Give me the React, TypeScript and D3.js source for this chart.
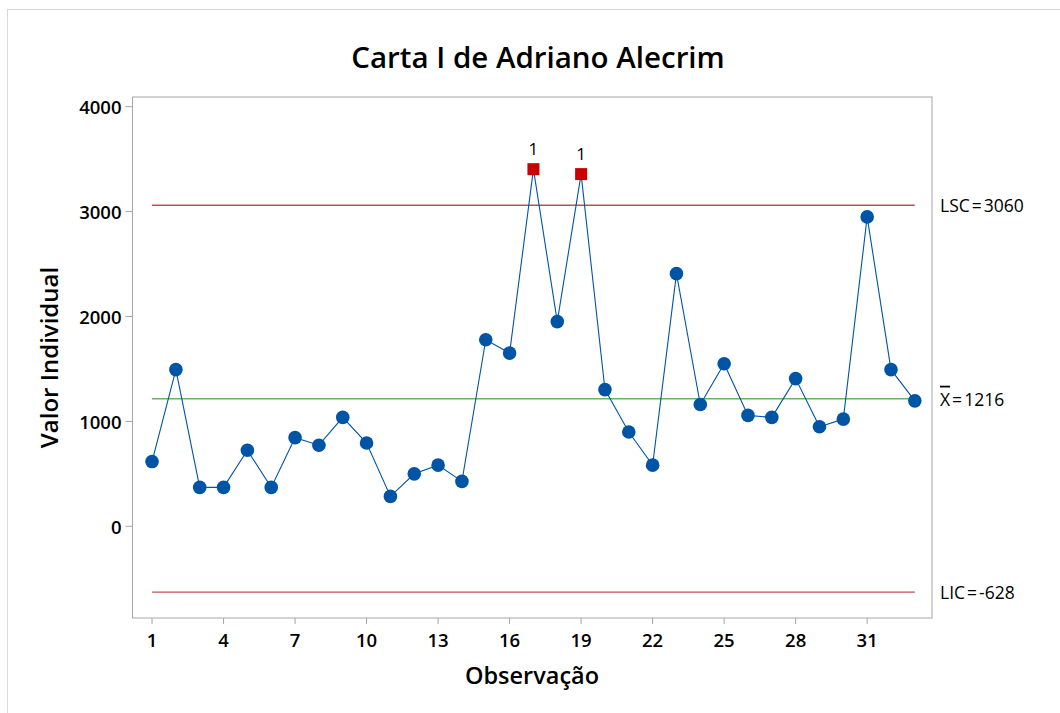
import * as d3 from "d3";

const observations = d3.range(1, 34);
const values = [
  617, 1493, 371, 371, 725, 371, 845, 773, 1038, 794, 285, 500, 583, 428, 1778,
  1651, 3404, 1951, 3357, 1303, 899, 583, 2408, 1161, 1550, 1057, 1038, 1408,
  949, 1022, 2949, 1493, 1196,
];
const lsc = 3060;
const mean = 1216;
const lic = -628;
const yTicks = [0, 1000, 2000, 3000, 4000];
const xTicks = [1, 4, 7, 10, 13, 16, 19, 22, 25, 28, 31];

const title = "Carta I de Adriano Alecrim";
const xTitle = "Observação";
const yTitle = "Valor Individual";

export default function App() {
  const width = 1060;
  const height = 713;
  const plot = { left: 132.5, right: 932, top: 97, bottom: 618 };
  const font = "'Open Sans', 'Noto Sans', sans-serif";
  const frameColor = "#a6a6a6";
  const blue = "#0054a6";
  const limitRed = "#c0504d";
  const meanGreen = "#6aaf6a";

  const xScale = d3.scaleLinear().domain([0.18, 33.72]).range([plot.left, plot.right]);
  const yScale = d3.scaleLinear().domain([-874, 4092]).range([plot.bottom, plot.top]);

  const points = observations.map((obs, i) => ({ obs, value: values[i] }));
  const line = d3
    .line<{ obs: number; value: number }>()
    .x((d) => xScale(d.obs))
    .y((d) => yScale(d.value));

  const x0 = xScale(observations[0]);
  const x1 = xScale(observations[observations.length - 1]);
  const labelX = plot.right + 8;
  const sq = 12;

  // control limit labels, Minitab style "NAME = value"
  const limitLabel = (name: React.ReactNode, v: number) => (
    <text x={labelX} y={yScale(v)} dominantBaseline="central" fontSize={17.5}>
      {name}
      <tspan dx={2}>=</tspan>
      <tspan dx={2}>{v}</tspan>
    </text>
  );

  return (
    <svg
      width={width}
      height={height}
      style={{ position: "absolute", left: 0, top: 0, background: "#fff" }}
      fontFamily={font}
    >
      {/* outer figure border */}
      <rect x={7.5} y={9.5} width={1100} height={800} fill="#fff" stroke="#d9d9d9" />

      <text x={538} y={68} textAnchor="middle" fontSize={29.5} fontWeight={600} fill="#000">
        {title}
      </text>

      <rect
        x={plot.left}
        y={plot.top}
        width={plot.right - plot.left}
        height={plot.bottom - plot.top}
        fill="none"
        stroke={frameColor}
      />

      {/* y axis */}
      {yTicks.map((t) => (
        <g key={t}>
          <line x1={plot.left - 7} x2={plot.left} y1={yScale(t)} y2={yScale(t)} stroke={frameColor} />
          <text
            x={plot.left - 11}
            y={yScale(t)}
            textAnchor="end"
            dominantBaseline="central"
            fontSize={18.5}
            fontWeight={600}
          >
            {t}
          </text>
        </g>
      ))}
      <text
        transform={`translate(48, ${(plot.top + plot.bottom) / 2}) rotate(-90)`}
        textAnchor="middle"
        dominantBaseline="central"
        fontSize={24}
        fontWeight={600}
      >
        {yTitle}
      </text>

      {/* x axis */}
      {xTicks.map((t) => (
        <g key={t}>
          <line x1={xScale(t)} x2={xScale(t)} y1={plot.bottom} y2={plot.bottom + 6} stroke={frameColor} />
          <text x={xScale(t)} y={647} textAnchor="middle" fontSize={18.5} fontWeight={600}>
            {t}
          </text>
        </g>
      ))}
      <text x={532} y={684} textAnchor="middle" fontSize={23.5} fontWeight={600}>
        {xTitle}
      </text>

      {/* control limits */}
      <line x1={x0} x2={x1} y1={yScale(lsc)} y2={yScale(lsc)} stroke={limitRed} strokeWidth={1.3} />
      <line x1={x0} x2={x1} y1={yScale(lic)} y2={yScale(lic)} stroke={limitRed} strokeWidth={1.3} />
      <line x1={x0} x2={x1} y1={yScale(mean)} y2={yScale(mean)} stroke={meanGreen} strokeWidth={1.5} />

      {limitLabel("LSC", lsc)}
      {limitLabel(<tspan textDecoration="overline">X</tspan>, mean)}
      {limitLabel("LIC", lic)}

      {/* data */}
      <path d={line(points) ?? ""} fill="none" stroke={blue} strokeWidth={1.1} />
      {points.map((p) =>
        p.value > lsc || p.value < lic ? (
          <g key={p.obs}>
            <rect
              x={xScale(p.obs) - sq / 2}
              y={yScale(p.value) - sq / 2}
              width={sq}
              height={sq}
              fill="#cc0000"
            />
            <text x={xScale(p.obs)} y={yScale(p.value) - 14} textAnchor="middle" fontSize={17}>
              1
            </text>
          </g>
        ) : (
          <circle key={p.obs} cx={xScale(p.obs)} cy={yScale(p.value)} r={6.8} fill={blue} />
        )
      )}
    </svg>
  );
}
